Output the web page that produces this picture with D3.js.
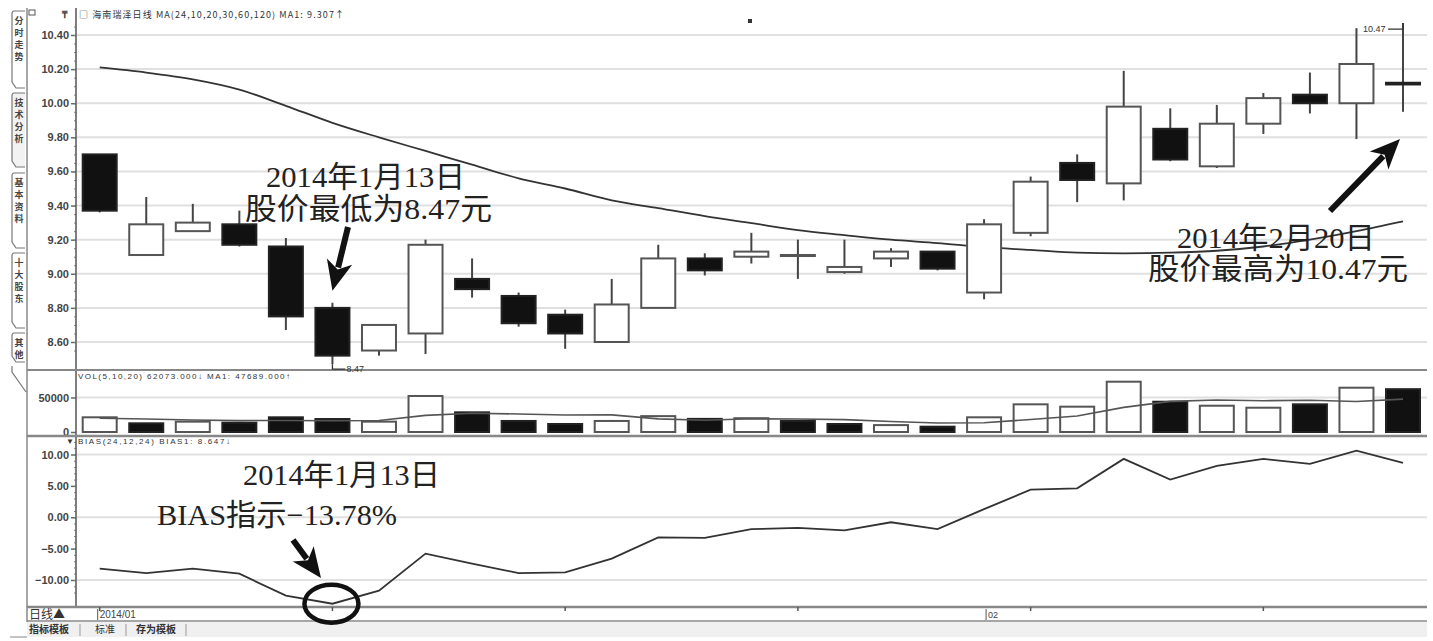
<!DOCTYPE html>
<html>
<head>
<meta charset="utf-8">
<script src="https://cdn.jsdelivr.net/npm/d3@7"></script>
<style>
body { margin: 0; background: #fff; }
svg { display: block; font-family: "Liberation Sans", Arial, sans-serif; }
</style>
</head>
<body>
<script>
// 海南瑞泽 daily, 2014-01-06 .. 2014-02-20
var dates = ["01-06","01-07","01-08","01-09","01-10","01-13","01-14","01-15","01-16","01-17",
             "01-20","01-21","01-22","01-23","01-24","01-27","01-28","01-29","01-30","02-07",
             "02-10","02-11","02-12","02-13","02-14","02-17","02-18","02-19","02-20"];
var openP  = [9.70,9.11,9.25,9.29,9.16,8.80,8.55,8.65,8.97,8.87,8.76,8.60,8.80,9.09,9.10,9.11,9.01,9.09,9.13,8.89,9.24,9.65,9.53,9.85,9.63,9.88,10.05,10.00,10.12];
var highP  = [9.70,9.45,9.41,9.37,9.21,8.83,8.70,9.20,9.09,8.89,8.79,8.97,9.17,9.12,9.24,9.20,9.20,9.15,9.13,9.32,9.57,9.70,10.19,9.97,9.99,10.06,10.18,10.44,10.47];
var lowP   = [9.36,9.11,9.25,9.16,8.67,8.47,8.52,8.53,8.86,8.69,8.56,8.60,8.80,8.99,9.06,8.97,9.00,9.04,9.02,8.85,9.22,9.42,9.43,9.66,9.62,9.82,9.94,9.79,9.95];
var closeP = [9.37,9.29,9.30,9.17,8.75,8.52,8.70,9.17,8.91,8.71,8.65,8.82,9.09,9.02,9.13,9.11,9.04,9.13,9.03,9.29,9.54,9.55,9.98,9.67,9.88,10.03,10.00,10.23,10.11];
var ma24   = [10.21,10.18,10.14,10.08,9.985,9.885,9.80,9.72,9.64,9.56,9.50,9.43,9.385,9.338,9.297,9.256,9.227,9.20,9.18,9.156,9.14,9.124,9.12,9.124,9.135,9.16,9.20,9.25,9.307];
var volume = [21300,12600,15000,13500,21300,18800,15000,52200,28500,16000,11600,16000,23000,19000,20000,16000,11600,10000,7700,21300,40100,36700,72900,43900,38100,35200,40100,64200,62073];
var volMa  = [19900,18800,17400,16500,16700,16240,16720,24160,27160,26100,24660,24860,19020,17120,19120,18800,17920,15320,13060,13320,18140,23160,35740,44320,46340,45340,46040,44300,47689];
var bias   = [-8.2,-8.9,-8.2,-9.0,-12.5,-13.78,-11.7,-5.8,-7.4,-8.9,-8.8,-6.6,-3.2,-3.3,-1.9,-1.7,-2.1,-0.8,-1.9,1.3,4.4,4.6,9.3,6.0,8.2,9.3,8.5,10.6,8.647];

var priceTicks = [8.6,8.8,9.0,9.2,9.4,9.6,9.8,10.0,10.2,10.4];
var volTicks = [0, 50000];
var biasTicks = [-10,-5,0,5,10];
var biasGrid = [-10,0,10];
var tabs = ["分时走势","技术分析","基本资料","十大股东","其他"];

var w = 1433, h = 641;
var left = 76, right = 1427;

var svg = d3.select("body").append("svg").attr("width", w).attr("height", h);
svg.append("rect").attr("width", w).attr("height", h).attr("fill", "#fff");

var idx = d3.range(dates.length);
var x = d3.scaleLinear().domain([0, dates.length - 1]).range([99.7, 1403]);
var bw = 34;
var yP = d3.scaleLinear().domain([8.6, 10.4]).range([342, 35]);
var yV = d3.scaleLinear().domain([0, 50000]).range([432, 397.5]);
var yB = d3.scaleLinear().domain([-10, 10]).range([580, 454.5]);

// grid lines
function grid(ticks, y) {
	svg.append("g").selectAll("line").data(ticks).enter().append("line")
		.attr("x1", left + 1).attr("x2", right)
		.attr("y1", function (d) { return y(d); })
		.attr("y2", function (d) { return y(d); })
		.attr("stroke", "#e0e0e0").attr("stroke-width", 2);
}
grid(priceTicks, yP);
grid([50000], yV);
grid(biasGrid, yB);

// left axes
function axis(y, ticks, fmt, minor) {
	var g = svg.append("g").attr("transform", "translate(" + left + ",0)");
	g.call(d3.axisLeft(y).tickValues(ticks).tickFormat(fmt).tickSize(5).tickSizeOuter(0));
	g.select(".domain").remove();
	g.selectAll(".tick line").attr("stroke", "#666").attr("stroke-width", 1.5);
	g.selectAll(".tick text").attr("fill", "#444").attr("font-size", 11).attr("font-weight", "bold").attr("x", -7);
	if (minor) {
		var m = svg.append("g").attr("transform", "translate(" + left + ",0)");
		m.call(d3.axisLeft(y).tickValues(minor).tickFormat("").tickSize(2).tickSizeOuter(0));
		m.select(".domain").remove();
		m.selectAll(".tick line").attr("stroke", "#888");
	}
}
axis(yP, priceTicks, d3.format(".2f"), d3.range(8.55, 10.5, 0.05));
axis(yV, volTicks, d3.format("d"), null);
axis(yB, biasTicks, d3.format(".2f"), d3.range(-12, 12.1, 1));

// frame
svg.append("line").attr("x1", left).attr("x2", left).attr("y1", 8).attr("y2", 607).attr("stroke", "#555").attr("stroke-width", 1.5);
svg.append("line").attr("x1", 27).attr("x2", 27).attr("y1", 8).attr("y2", 622).attr("stroke", "#888").attr("stroke-width", 1.5);
[[370, 2], [436, 2.5], [607, 2.5], [621, 1.5]].forEach(function (s) {
	svg.append("line").attr("x1", 27).attr("x2", right).attr("y1", s[0]).attr("y2", s[0])
		.attr("stroke", "#888").attr("stroke-width", s[1]);
});

// side tabs, text set vertically
var tabY = [[11, 88], [93, 167], [173, 248], [253, 328], [333, 362]];
tabY.forEach(function (t, i) {
	svg.append("path")
		.attr("d", "M25," + t[0] + " L14," + t[0] + " Q12," + t[0] + " 12," + (t[0] + 3) + " L12," + (t[1] - 6) + " L16," + t[1] + " L25," + t[1])
		.attr("fill", i === 1 ? "#f2f2f2" : "#fff").attr("stroke", "#777").attr("stroke-width", 1.2);
	svg.append("text").attr("x", 19).attr("y", t[0] + 5)
		.attr("writing-mode", "tb").attr("font-size", 9).attr("font-weight", "bold")
		.attr("letter-spacing", 3)
		.attr("fill", "#444").attr("font-family", "Noto Sans CJK SC").text(tabs[i]);
});
svg.append("path").attr("d", "M12,366 L12,372 L26,392").attr("fill", "none").attr("stroke", "#777").attr("stroke-width", 1.2);

// titles
svg.append("rect").attr("x", 29).attr("y", 10).attr("width", 6).attr("height", 5).attr("fill", "none").attr("stroke", "#555");
svg.append("text").attr("x", 62).attr("y", 18).attr("font-size", 10).attr("font-weight", "bold").attr("fill", "#333").text("₸");
svg.append("text").attr("x", 79).attr("y", 18).attr("font-size", 9).attr("fill", "#333")
	.attr("font-family", "Noto Sans CJK SC").attr("textLength", 265).attr("lengthAdjust", "spacing")
	.text("□ 海南瑞泽日线 MA(24,10,20,30,60,120) MA1: 9.307↑");
svg.append("rect").attr("x", 748).attr("y", 19).attr("width", 4).attr("height", 4).attr("fill", "#333");
svg.append("text").attr("x", 78).attr("y", 379).attr("font-size", 8).attr("fill", "#333")
	.attr("textLength", 212).attr("lengthAdjust", "spacing")
	.text("VOL(5,10,20) 62073.000↓ MA1: 47689.000↑");
svg.append("text").attr("x", 66).attr("y", 444).attr("font-size", 8).attr("fill", "#333").text("▼");
svg.append("text").attr("x", 78).attr("y", 444).attr("font-size", 8).attr("fill", "#333")
	.attr("textLength", 152).attr("lengthAdjust", "spacing")
	.text("BIAS(24,12,24) BIAS1: 8.647↓");

// MA line in price panel
var maLine = d3.line().x(function (i) { return x(i); }).y(function (i) { return yP(ma24[i]); }).curve(d3.curveMonotoneX);
svg.append("path").attr("d", maLine(idx)).attr("fill", "none").attr("stroke", "#333").attr("stroke-width", 1.8);

// candles
var cg = svg.append("g");
cg.selectAll(".wick").data(idx).enter().append("line")
	.attr("class", "wick")
	.attr("x1", function (i) { return x(i); }).attr("x2", function (i) { return x(i); })
	.attr("y1", function (i) { return yP(highP[i]); }).attr("y2", function (i) { return yP(lowP[i]); })
	.attr("stroke", "#444").attr("stroke-width", 2);
cg.selectAll(".body").data(idx).enter().append("rect")
	.attr("class", "body")
	.attr("x", function (i) { return x(i) - bw / 2; })
	.attr("width", bw)
	.attr("y", function (i) { return yP(Math.max(openP[i], closeP[i])); })
	.attr("height", function (i) { return Math.max(1, Math.abs(yP(openP[i]) - yP(closeP[i]))); })
	.attr("fill", function (i) { return closeP[i] >= openP[i] ? "#fff" : "#111"; })
	.attr("stroke", function (i) { return closeP[i] >= openP[i] ? "#555" : "#222"; })
	.attr("stroke-width", 2);

// low / high labels
var lo = 5, hi = dates.length - 1;
svg.append("path").attr("d", "M" + x(lo) + "," + yP(lowP[lo]) + " V" + (yP(lowP[lo]) + 5) + " H" + (x(lo) + 13))
	.attr("fill", "none").attr("stroke", "#333").attr("stroke-width", 1.3);
svg.append("text").attr("x", x(lo) + 14).attr("y", yP(lowP[lo]) + 8).attr("font-size", 9).attr("fill", "#333").text("8.47");
svg.append("path").attr("d", "M" + (x(hi) - 15) + "," + (yP(highP[hi]) + 6) + " H" + x(hi) + " V" + yP(highP[hi]))
	.attr("fill", "none").attr("stroke", "#333").attr("stroke-width", 1.3);
svg.append("text").attr("x", x(hi) - 40).attr("y", yP(highP[hi]) + 9).attr("font-size", 9).attr("fill", "#333").text("10.47");

// volume
svg.append("g").selectAll("rect").data(idx).enter().append("rect")
	.attr("x", function (i) { return x(i) - bw / 2; })
	.attr("width", bw)
	.attr("y", function (i) { return yV(volume[i]); })
	.attr("height", function (i) { return yV(0) - yV(volume[i]); })
	.attr("fill", function (i) { return i === 0 || closeP[i] >= closeP[i - 1] ? "#fff" : "#111"; })
	.attr("stroke", function (i) { return i === 0 || closeP[i] >= closeP[i - 1] ? "#555" : "#222"; })
	.attr("stroke-width", 2);
var vLine = d3.line().x(function (i) { return x(i); }).y(function (i) { return yV(volMa[i]); });
svg.append("path").attr("d", vLine(idx)).attr("fill", "none").attr("stroke", "#555").attr("stroke-width", 1.6);

// bias
var bLine = d3.line().x(function (i) { return x(i); }).y(function (i) { return yB(bias[i]); });
svg.append("path").attr("d", bLine(idx)).attr("fill", "none").attr("stroke", "#333").attr("stroke-width", 1.8);

// date row
var dateTicks = [0, 5, 10, 15, 20, 25];
svg.append("g").selectAll("line").data(dateTicks).enter().append("line")
	.attr("x1", function (i) { return x(i); }).attr("x2", function (i) { return x(i); })
	.attr("y1", 607).attr("y2", 611).attr("stroke", "#555").attr("stroke-width", 1.5);
svg.append("text").attr("x", 29).attr("y", 619).attr("font-size", 12).attr("fill", "#333")
	.attr("font-family", "Noto Sans CJK SC").text("日线▲");
svg.append("line").attr("x1", x(0) - 2).attr("x2", x(0) - 2).attr("y1", 609).attr("y2", 620).attr("stroke", "#555");
svg.append("text").attr("x", x(0)).attr("y", 618).attr("font-size", 10).attr("fill", "#444").text("2014/01");
svg.append("line").attr("x1", x(19) + 2).attr("x2", x(19) + 2).attr("y1", 609).attr("y2", 620).attr("stroke", "#555");
svg.append("text").attr("x", x(19) + 4).attr("y", 618).attr("font-size", 9).attr("fill", "#444").text("02");

// bottom tab row
svg.append("rect").attr("x", 27).attr("y", 622).attr("width", right - 27).attr("height", 15).attr("fill", "#f0f0f0");
svg.append("line").attr("x1", 10).attr("x2", 27).attr("y1", 637).attr("y2", 637).attr("stroke", "#888");
[["指标模板", 29, "bold"], ["标准", 95, "normal"], ["存为模板", 136, "bold"]].forEach(function (t) {
	svg.append("text").attr("x", t[1]).attr("y", 633).attr("font-size", 10).attr("font-weight", t[2])
		.attr("fill", "#333").attr("font-family", "Noto Sans CJK SC").text(t[0]);
});
[80, 126, 186].forEach(function (sx) {
	svg.append("line").attr("x1", sx).attr("x2", sx).attr("y1", 624).attr("y2", 636).attr("stroke", "#999");
});

// annotations
var serif = "'Liberation Serif', 'Noto Sans CJK SC', serif";
function note(txt, x0, y0, len) {
	svg.append("text").attr("x", x0).attr("y", y0).attr("font-size", 30).attr("fill", "#222")
		.attr("font-family", serif).attr("textLength", len).attr("lengthAdjust", "spacingAndGlyphs").text(txt);
}
note("2014年1月13日", 266, 187, 199);
note("股价最低为8.47元", 245, 219, 247);
note("2014年2月20日", 1177, 248, 198);
note("股价最高为10.47元", 1148, 279, 260);
note("2014年1月13日", 243, 485, 197);
note("BIAS指示−13.78%", 157, 525, 240);

function arrow(x0, y0, x1, y1) {
	var dx = x1 - x0, dy = y1 - y0, l = Math.sqrt(dx * dx + dy * dy);
	var ux = dx / l, uy = dy / l, L = 30, W = 13;
	var bx = x1 - ux * L, by = y1 - uy * L;
	svg.append("line").attr("x1", x0).attr("y1", y0).attr("x2", bx + ux * 6).attr("y2", by + uy * 6)
		.attr("stroke", "#111").attr("stroke-width", 6);
	svg.append("path")
		.attr("d", "M" + x1 + "," + y1 + " L" + (bx - uy * W) + "," + (by + ux * W) + " L" + (bx + ux * 8) + "," + (by + uy * 8) + " L" + (bx + uy * W) + "," + (by - ux * W) + " Z")
		.attr("fill", "#111");
}
arrow(348, 227, x(lo), yP(highP[lo]) - 12);
arrow(1330, 211, x(hi) - 3, 139);
arrow(293, 540, 321, 578);

svg.append("ellipse").attr("cx", x(lo) - 1).attr("cy", yB(bias[lo]))
	.attr("rx", 27).attr("ry", 19).attr("fill", "none").attr("stroke", "#111").attr("stroke-width", 4.5);
</script>
</body>
</html>
